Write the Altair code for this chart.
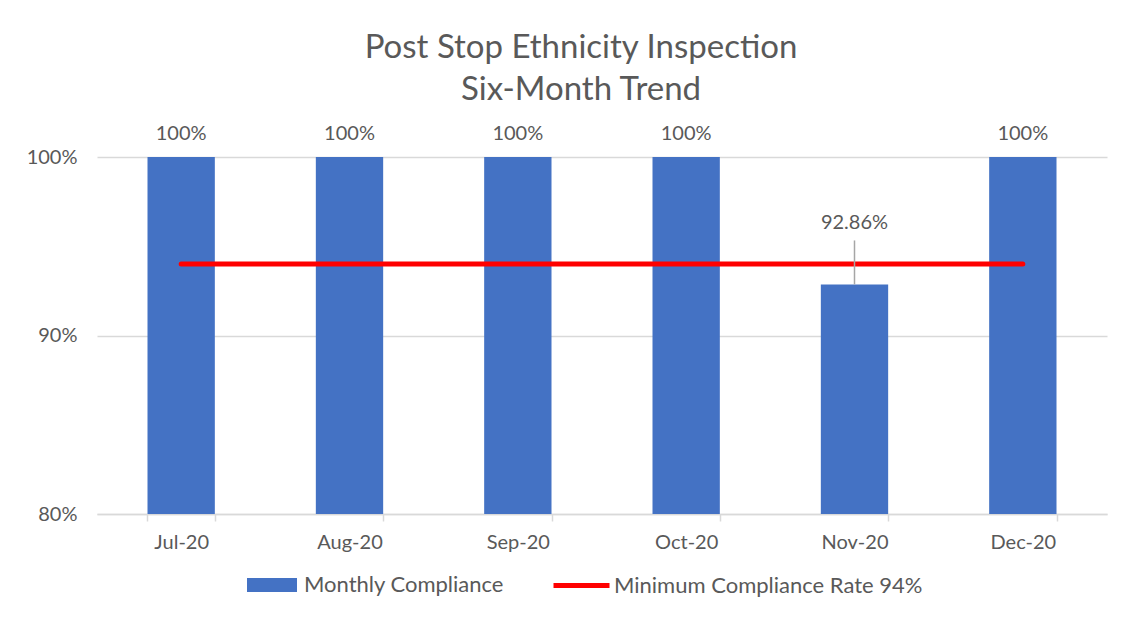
import altair as alt
import pandas as pd

months = ["Jul-20", "Aug-20", "Sep-20", "Oct-20", "Nov-20", "Dec-20"]
compliance = [100, 100, 100, 100, 92.86, 100]
minimum_rate = [94, 94, 94, 94, 94, 94]
bar_series = "Monthly Compliance"
line_series = "Minimum Compliance Rate 94%"

df = pd.DataFrame({"month": months, "value": compliance, "minimum": minimum_rate})
df["label"] = [("100%" if v == 100 else f"{v:.2f}%") for v in compliance]
df["s1"] = bar_series
df["s2"] = line_series

FONT = "Lato"
GRAY = "#595959"
FS = 20
LFS = 22

base = alt.Chart(df)

x_enc = alt.X(
    "month:N", sort=months, title=None,
    scale=alt.Scale(paddingInner=0.6, paddingOuter=0.3),
    axis=alt.Axis(labelAngle=0, tickBand="extent", domainColor="#d9d9d9", tickColor="#d9d9d9",
                  tickSize=7, domainWidth=1.5, tickWidth=1.5, labelFont=FONT, labelFontSize=FS,
                  labelColor=GRAY, labelPadding=11, grid=False),
)
y_scale = alt.Scale(domain=[80, 100], nice=False, zero=False)

bars = base.mark_bar(clip=True).encode(
    x=x_enc,
    y=alt.Y("value:Q", scale=y_scale, title=None,
            axis=alt.Axis(values=[80, 90, 100], labelExpr="datum.value + '%'", domain=False,
                          ticks=False, gridColor="#d9d9d9", gridWidth=1.5, labelFont=FONT,
                          labelFontSize=FS, labelColor=GRAY, labelPadding=20)),
    y2=alt.datum(80),
    fill=alt.Fill("s1:N", scale=alt.Scale(range=["#4472C4"]),
                  legend=alt.Legend(title=None, orient="none", legendX=150, legendY=403,
                                    symbolType="M-1,-0.28H1V0.28H-1Z", symbolSize=2500,
                                    symbolStrokeWidth=0, labelOffset=7, labelFont=FONT,
                                    labelFontSize=LFS, labelColor=GRAY, labelLimit=500)),
)

line = base.mark_line(strokeWidth=5, strokeCap="round").encode(
    x=alt.X("month:N", sort=months),
    y=alt.Y("minimum:Q", scale=y_scale),
    stroke=alt.Stroke("s2:N", scale=alt.Scale(range=["#FF0000"]),
                      legend=alt.Legend(title=None, orient="none", legendX=454, legendY=398,
                                        symbolType="stroke", symbolSize=3136,
                                        symbolStrokeWidth=5, labelOffset=2, labelFont=FONT,
                                        labelFontSize=LFS, labelColor=GRAY, labelLimit=500)),
)

full_labels = base.transform_filter("datum.value >= 100").mark_text(
    dy=-17, baseline="alphabetic", font=FONT, fontSize=FS, color=GRAY
).encode(x=alt.X("month:N", sort=months), y=alt.Y("value:Q", scale=y_scale), text="label:N")

low_labels = base.transform_filter("datum.value < 100").mark_text(
    dy=-55, baseline="alphabetic", font=FONT, fontSize=FS, color=GRAY
).encode(x=alt.X("month:N", sort=months), y=alt.Y("value:Q", scale=y_scale), text="label:N")

leader = base.transform_filter("datum.value < 100").mark_rule(
    color="#a6a6a6", strokeWidth=1.5, y2Offset=-44
).encode(x=alt.X("month:N", sort=months), y=alt.Y("value:Q", scale=y_scale), y2=alt.Y2("value:Q"))

chart = alt.layer(bars, line, leader, full_labels, low_labels).properties(
    width=1010, height=357,
    padding={"left": 89, "top": 149, "right": 30, "bottom": 100},
    autosize="none",
    background="white",
    title=alt.Title(["Post Stop Ethnicity Inspection", "Six-Month Trend"], font=FONT,
                    fontSize=33, fontWeight="normal", color=GRAY, anchor="middle",
                    frame="group", dx=-21, offset=17, lineHeight=42),
).configure_view(stroke=None)

chart.save("out.html", embed_options={"renderer": "svg", "actions": False})
